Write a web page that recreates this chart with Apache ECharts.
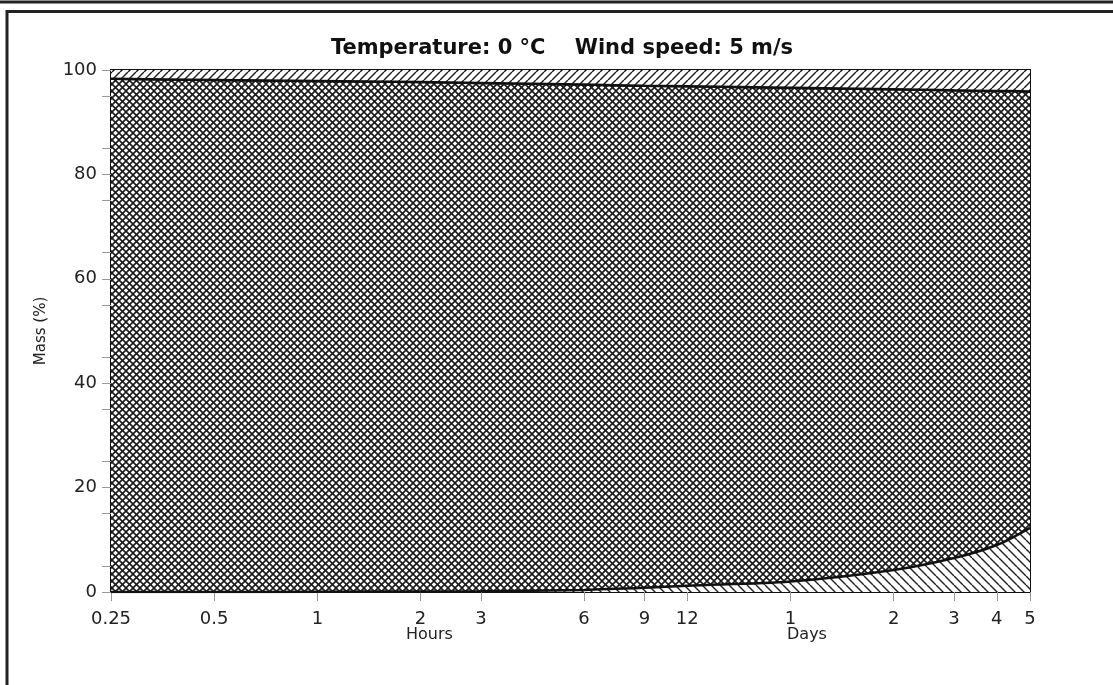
<!DOCTYPE html>
<html>
<head>
<meta charset="utf-8">
<script src="https://cdn.jsdelivr.net/npm/echarts@6/dist/echarts.min.js"></script>
<style>html,body{margin:0;padding:0;background:#fff;}#c{width:1113px;height:685px;}</style>
</head>
<body>
<div id="c"></div>
<script>
// ---- data ----
const hours = [0.25, 0.5, 1, 2, 3, 6, 9, 12, 24, 48, 72, 96, 120];
const upperCurve = [98.3, 98.1, 97.9, 97.7, 97.5, 97.2, 97.0, 96.9, 96.6, 96.3, 96.1, 96.0, 95.9];
const lowerCurve = [0, 0, 0.05, 0.1, 0.15, 0.4, 0.8, 1.2, 2.0, 4.2, 6.5, 9.0, 12.3];
const xTickValues = [0.25, 0.5, 1, 2, 3, 6, 9, 12, 24, 48, 72, 96, 120];
const xTickLabels = ['0.25', '0.5', '1', '2', '3', '6', '9', '12', '1', '2', '3', '4', '5'];
const yTickValues = [0, 5, 15, 20, 25, 35, 40, 45, 55, 60, 65, 75, 80, 85, 95, 100];
const titleText = 'Temperature: 0 °C    Wind speed: 5 m/s';

// ---- patterns ----
function makePattern(size, kind, lw, color) {
  const c = document.createElement('canvas');
  c.width = size; c.height = size;
  const g = c.getContext('2d');
  g.fillStyle = '#fff'; g.fillRect(0, 0, size, size);
  g.strokeStyle = color; g.lineWidth = lw;
  const dirs = kind === 'cross' ? ['\\', '/'] : [kind];
  dirs.forEach(d => {
    for (let k = -1; k <= 1; k++) {
      g.beginPath();
      if (d === '\\') { g.moveTo(k * size, 0); g.lineTo(k * size + size, size); }
      else { g.moveTo(k * size, size); g.lineTo(k * size + size, 0); }
      g.stroke();
    }
  });
  return { image: c, repeat: 'repeat' };
}
const crossPat = makePattern(7, 'cross', 1.6, '#1a1a1a');
const backPat = makePattern(9, '\\', 1.4, '#222');
const fwdPat = makePattern(8, '/', 1.5, '#222');

const pts = arr => hours.map((h, i) => [h, arr[i]]);
const FONT = 'DejaVu Sans';

const chart = echarts.init(document.getElementById('c'), null, { renderer: 'canvas' });
chart.setOption({
  animation: false,
  backgroundColor: '#fff',
  title: {
    text: titleText, left: 557, top: 33, textAlign: 'center',
    textStyle: { fontFamily: FONT, fontWeight: 'bold', fontSize: 21, color: '#111' }
  },
  grid: { left: 111, right: 83, top: 70, bottom: 93, show: true, borderColor: '#111', borderWidth: 2, backgroundColor: 'transparent' },
  xAxis: {
    type: 'log', logBase: 2, min: 0.25, max: 120,
    axisLine: { show: true, lineStyle: { color: '#111', width: 2 } },
    axisTick: { show: true, customValues: xTickValues, length: 9, lineStyle: { color: '#999', width: 1 } },
    axisLabel: {
      customValues: xTickValues, margin: 18, color: '#222', fontFamily: FONT, fontSize: 18,
      formatter: v => {
        const i = xTickValues.findIndex(t => Math.abs(t - v) < 1e-6 * t);
        return i >= 0 ? xTickLabels[i] : '';
      }
    },
    splitLine: { show: false }, minorTick: { show: false }
  },
  yAxis: {
    type: 'value', min: 0, max: 100, interval: 20,
    name: 'Mass (%)', nameLocation: 'middle', nameGap: 62, nameRotate: 90,
    nameTextStyle: { fontFamily: FONT, fontSize: 15, color: '#222' },
    axisLine: { show: true, lineStyle: { color: '#111', width: 2 } },
    axisTick: { show: true, customValues: yTickValues, length: 9, lineStyle: { color: '#999', width: 1 } },
    axisLabel: { margin: 14, color: '#222', fontFamily: FONT, fontSize: 18 },
    splitLine: { show: false }
  },
  series: [
    {
      type: 'line', data: pts(upperCurve), smooth: 0.3, showSymbol: false, z: 2,
      lineStyle: { color: '#111', width: 2.5 },
      areaStyle: { origin: 'start', color: crossPat, opacity: 1 }
    },
    {
      type: 'line', data: pts(lowerCurve), smooth: 0.3, showSymbol: false, z: 3,
      lineStyle: { color: '#111', width: 2.5 },
      areaStyle: { origin: 'start', color: backPat, opacity: 1 }
    },
    {
      type: 'line', data: pts(upperCurve), smooth: 0.3, showSymbol: false, z: 3,
      lineStyle: { color: '#111', width: 2.5 },
      areaStyle: { origin: 'end', color: fwdPat, opacity: 1 }
    }
  ],
  graphic: [
    { type: 'line', shape: { x1: 0, y1: 2, x2: 1113, y2: 2 }, style: { stroke: '#222', lineWidth: 3 } },
    { type: 'polyline', shape: { points: [[7, 685], [7, 11.5], [1113, 11.5]] }, style: { stroke: '#222', lineWidth: 3, fill: null } },
    { type: 'text', left: 406, top: 627, style: { text: 'Hours', font: '16px "DejaVu Sans"', fill: '#222' } },
    { type: 'text', left: 787, top: 627, style: { text: 'Days', font: '16px "DejaVu Sans"', fill: '#222' } }
  ]
});
</script>
</body>
</html>
